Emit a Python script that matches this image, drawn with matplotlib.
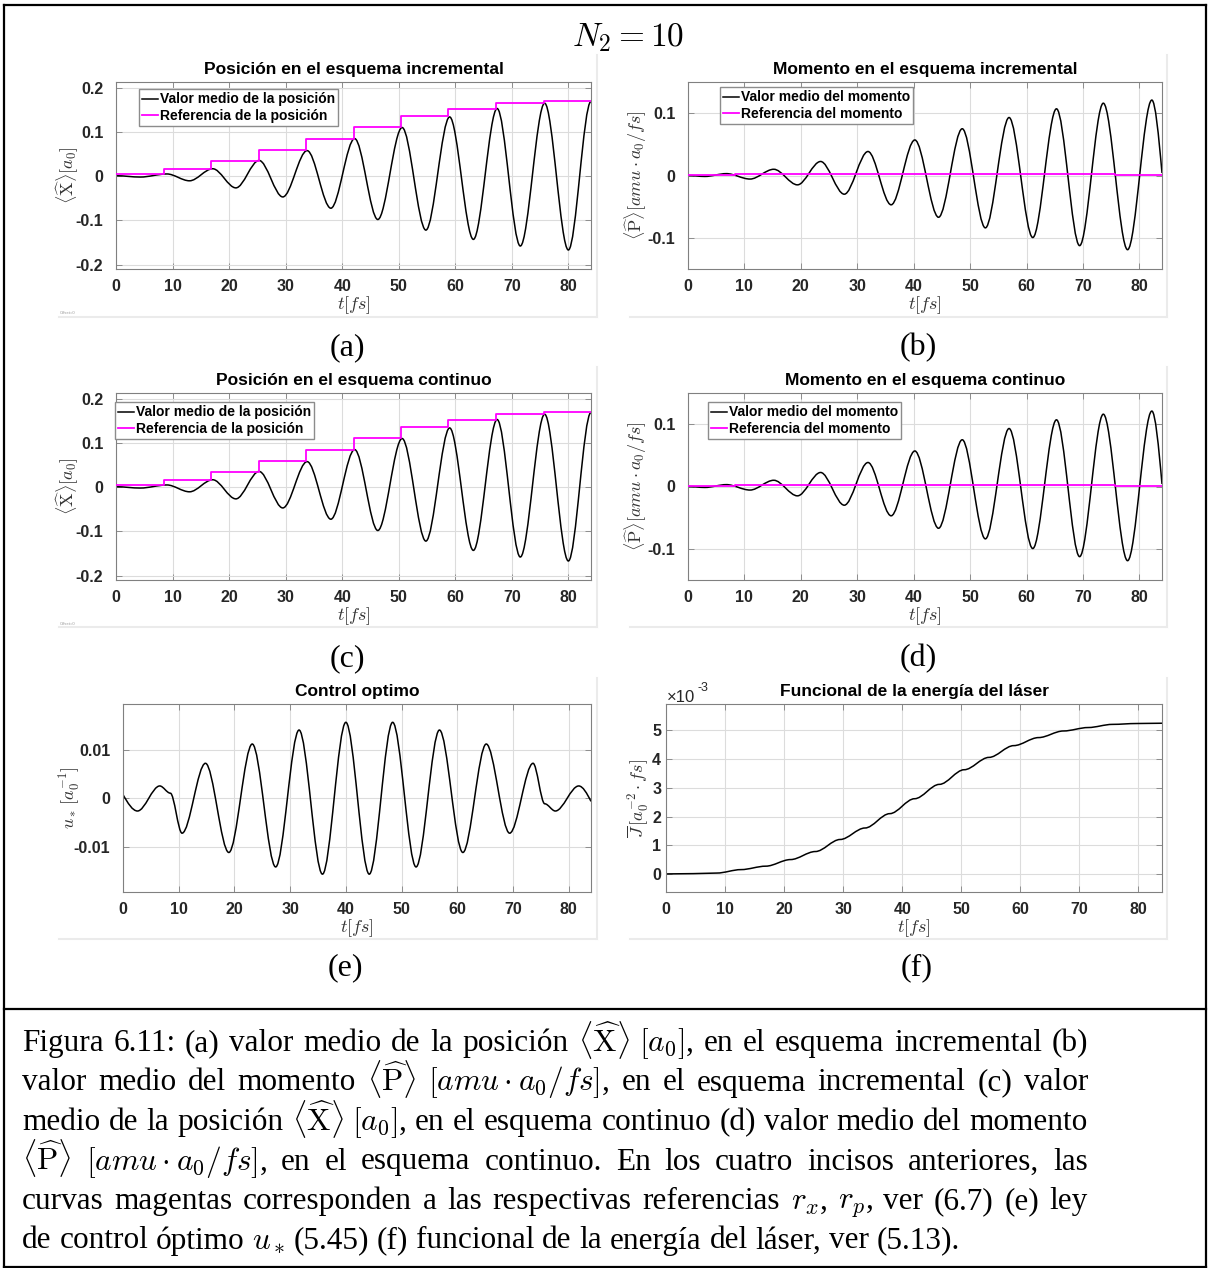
import matplotlib.pyplot as plt
import numpy as np
from matplotlib.path import Path
from matplotlib.patches import PathPatch
from matplotlib.lines import Line2D
from matplotlib.ticker import FuncFormatter

plt.rcParams['font.family'] = ['Liberation Sans', 'DejaVu Sans']
plt.rcParams['font.weight'] = 'bold'
plt.rcParams['mathtext.fontset'] = 'cm'
plt.rcParams['axes.unicode_minus'] = False

# ---- data (time in fs) ----
# mean position <X>: turning points of the oscillation [a0]
x_t = [0, 4.3, 9.0, 13.0, 17.1, 21.2, 25.3, 29.5, 33.8, 38.0, 42.2,
       46.3, 50.6, 54.8, 59.0, 63.2, 67.4, 71.5, 75.8, 80.0, 84.0]
x_v = [0.001, -0.002, 0.005, -0.0105, 0.0168, -0.0265, 0.0356, -0.047,
       0.0578, -0.0725, 0.085, -0.098, 0.110, -0.122, 0.134, -0.143,
       0.153, -0.158, 0.165, -0.167, 0.169]

# position reference r_x (piecewise constant)
ref_t = [0, 8.4, 16.8, 25.2, 33.6, 42.0, 50.4, 58.8, 67.2, 75.6, 84.0]
rx = [0.004, 0.0166, 0.035, 0.0586, 0.085, 0.111, 0.135, 0.153, 0.165,
      0.170, 0.170]

# mean momentum <P>: turning points [amu a0/fs]
p_t = [0, 3.0, 6.8, 11.0, 15.2, 19.4, 23.5, 27.7, 31.9, 36.0, 40.2,
       44.4, 48.6, 52.7, 56.9, 61.1, 65.3, 69.4, 73.6, 77.9, 82.2, 84.0]
p_v = [0.0, -0.0015, 0.003, -0.0057, 0.010, -0.015, 0.0225, -0.030,
       0.0385, -0.047, 0.057, -0.067, 0.075, -0.084, 0.093, -0.0995,
       0.107, -0.1125, 0.116, -0.119, 0.121, 0.004]

# momentum reference r_p
rp = [0.001, 0.002, 0.002, 0.003, 0.003, 0.003, 0.003, 0.002, 0.002,
      0.001, 0.001]

# optimal control u_*: turning points [1/a0]
u_t = [0, 2.6, 6.6, 8.5, 10.6, 14.8, 19.0, 23.2, 27.4, 31.6, 35.8, 40.0,
       44.2, 48.4, 52.6, 56.8, 61.0, 65.2, 69.4, 73.6, 75.7, 77.6, 81.8, 84.0]
u_v = [0.0008, -0.0026, 0.0026, 0.0011, -0.0072, 0.0073, -0.0112, 0.0113,
       -0.0142, 0.0142, -0.0157, 0.0158, -0.0157, 0.0158, -0.0142, 0.0142,
       -0.0112, 0.0113, -0.0072, 0.0073, -0.0011, -0.0026, 0.0026, -0.0006]

# laser energy functional J, sampled where u_* crosses zero [x1e-3]
j_t = [0, 4.6, 8.6, 12.7, 16.9, 21.1, 25.3, 29.5, 33.7, 37.9, 42.1, 46.3,
       50.5, 54.7, 58.9, 63.1, 67.3, 71.5, 75.6, 79.7, 84.0]
j_v = [0.0, 0.01, 0.03, 0.15, 0.27, 0.50, 0.78, 1.20, 1.60, 2.10, 2.62,
       3.12, 3.63, 4.06, 4.47, 4.75, 4.98, 5.10, 5.21, 5.24, 5.25]

xticks = [0, 10, 20, 30, 40, 50, 60, 70, 80]

W, H = 1209, 1268
fig = plt.figure(figsize=(W / 100, H / 100), dpi=100)


def smooth_path(t, v, free_start=False, free_end=False):
    # cubic segments with flat tangents at the turning points
    verts = [(t[0], v[0])]
    codes = [Path.MOVETO]
    n = len(t)
    for i in range(n - 1):
        t0, y0, t1, y1 = t[i], v[i], t[i + 1], v[i + 1]
        dt = t1 - t0
        c0 = y0 + 0.52 * (y1 - y0) if (i == 0 and free_start) else y0
        c1 = y1 - 0.52 * (y1 - y0) if (i == n - 2 and free_end) else y1
        verts += [(t0 + dt / 3, c0), (t1 - dt / 3, c1), (t1, y1)]
        codes += [Path.CURVE4] * 3
    return Path(verts, codes)


def px_axes(x0, y0, x1, y1, ypad=9):
    ax = fig.add_axes([x0 / W, 1 - y1 / H, (x1 - x0) / W, (y1 - y0) / H])
    ax.set_xlim(0, 84)
    ax.set_xticks(xticks)
    ax.grid(True, color='#dcdcdc', lw=0.8)
    ax.set_axisbelow(True)
    ax.tick_params(direction='in', top=True, right=True, length=4, width=0.6,
                   color='#808080', labelsize=11.5, labelcolor='#262626')
    ax.tick_params(axis='x', pad=7)
    ax.tick_params(axis='y', pad=ypad)
    for s in ax.spines.values():
        s.set_color('#808080')
        s.set_linewidth(0.8)
    ax.yaxis.set_major_formatter(FuncFormatter(lambda v, p: '%g' % round(v, 6)))
    return ax


def fig_text(x, y, s, **kw):
    return fig.text(x / W, 1 - y / H, s, **kw)


def panel_frame(x0, y0, x1, y1):
    fig.add_artist(Line2D([x1 / W, x1 / W], [1 - y0 / H, 1 - y1 / H],
                          color='#ebebeb', lw=1.5))
    fig.add_artist(Line2D([x0 / W, x1 / W], [1 - y1 / H, 1 - y1 / H],
                          color='#ebebeb', lw=1.5))


serif = dict(fontweight='normal', family=['Liberation Serif', 'DejaVu Serif'])
lab_kw = dict(fontsize=13, color='#333333', ha='center', va='center')
leg_kw = dict(fontsize=10, frameon=True, fancybox=False, edgecolor='#8c8c8c',
              framealpha=1, handlelength=1.1, handletextpad=0.15,
              borderpad=0.25, labelspacing=0.15, borderaxespad=0)
title_kw = dict(fontsize=12.5, fontweight='bold', pad=6)


def sub_label(x, y, s):
    fig_text(x, y, s, fontsize=23, ha='center', va='center', **serif)


def position_panel(box, title, leg_xy, frame, cap):
    ax = px_axes(*box)
    ax.set_ylim(-0.21, 0.213)
    ax.set_yticks([-0.2, -0.1, 0, 0.1, 0.2])
    ax.add_patch(PathPatch(smooth_path(x_t, x_v), fill=False, ec='k', lw=1.1))
    ax.step(ref_t, rx, where='post', color='#ff00ff', lw=1.3, zorder=3)
    ax.set_title(title, **title_kw)
    ax.legend([Line2D([], [], color='k', lw=1.1),
               Line2D([], [], color='#ff00ff', lw=1.3)],
              ['Valor medio de la posición', 'Referencia de la posición'],
              loc='upper left', bbox_to_anchor=(leg_xy[0] / W, 1 - leg_xy[1] / H),
              bbox_transform=fig.transFigure, **leg_kw)
    xc = (box[0] + box[2]) / 2
    fig_text(xc, box[3] + 36, r'$t[fs]$', **lab_kw)
    fig_text(68, (box[1] + box[3]) / 2, r'$\langle\widehat{\mathrm{X}}\rangle[a_0]$',
             rotation=90, **lab_kw)
    fig_text(60, box[3] + 44, 'Offset=0', fontsize=3, color='#999999',
             fontweight='normal', va='center')
    panel_frame(*frame)
    sub_label(347, cap, cap_lab.pop(0))


def momentum_panel(box, title, leg_xy, frame, cap):
    ax = px_axes(*box)
    ax.set_ylim(-0.15, 0.15)
    ax.set_yticks([-0.1, 0, 0.1])
    ax.add_patch(PathPatch(smooth_path(p_t, p_v, free_end=True), fill=False,
                           ec='k', lw=1.1))
    ax.step(ref_t, rp, where='post', color='#ff00ff', lw=1.3, zorder=3)
    ax.set_title(title, **title_kw)
    ax.legend([Line2D([], [], color='k', lw=1.1),
               Line2D([], [], color='#ff00ff', lw=1.3)],
              ['Valor medio del momento', 'Referencia del momento'],
              loc='upper left', bbox_to_anchor=(leg_xy[0] / W, 1 - leg_xy[1] / H),
              bbox_transform=fig.transFigure, **leg_kw)
    xc = (box[0] + box[2]) / 2
    fig_text(xc, box[3] + 36, r'$t[fs]$', **lab_kw)
    fig_text(636, (box[1] + box[3]) / 2,
             r'$\langle\widehat{\mathrm{P}}\rangle[amu\cdot a_0/fs]$',
             rotation=90, **lab_kw)
    panel_frame(*frame)
    sub_label(918, cap, cap_lab.pop(0))


cap_lab = ['(a)', '(b)', '(c)', '(d)', '(e)', '(f)']

position_panel((116, 82, 591, 269), 'Posición en el esquema incremental',
               (139, 89), (59, 55, 597, 317), 348)
momentum_panel((688, 82, 1162, 269), 'Momento en el esquema incremental',
               (720, 87), (630, 55, 1167, 317), 348)
position_panel((116, 393, 591, 580), 'Posición en el esquema continuo',
               (115, 402), (59, 367, 597, 627), 659)
momentum_panel((688, 393, 1162, 580), 'Momento en el esquema continuo',
               (708, 402), (630, 367, 1167, 627), 659)

# (e) optimal control
ax = px_axes(123, 704, 591, 892)
ax.set_ylim(-0.0194, 0.0196)
ax.set_yticks([-0.01, 0, 0.01])
ax.add_patch(PathPatch(smooth_path(u_t, u_v, free_start=True, free_end=True),
                       fill=False, ec='k', lw=1.1))
ax.set_title('Control optimo', **title_kw)
fig_text(357, 928, r'$t[fs]$', **lab_kw)
fig_text(70, 798, r'$u_*\,[a_0^{-1}]$', rotation=90, **lab_kw)
panel_frame(59, 678, 597, 939)
sub_label(345, 968, cap_lab.pop(0))

# (f) laser energy functional
ax = px_axes(666, 704, 1162, 892, ypad=3.5)
ax.set_ylim(-0.63e-3, 5.92e-3)
ax.set_yticks([0, 1e-3, 2e-3, 3e-3, 4e-3, 5e-3])
ax.yaxis.set_major_formatter(FuncFormatter(lambda v, p: '%g' % round(v * 1e3, 6)))
ax.add_patch(PathPatch(smooth_path(j_t, [v * 1e-3 for v in j_v]), fill=False,
                       ec='k', lw=1.1))
ax.set_title('Funcional de la energía del láser', **title_kw)
fig_text(667, 698, '×10', fontsize=12, color='#262626', fontweight='normal',
         va='center')
fig_text(698, 688, '-3', fontsize=9, color='#262626', fontweight='normal',
         va='center')
fig_text(914, 928, r'$t[fs]$', **lab_kw)
fig_text(638, 798, r'$\overline{J}\,[a_0^{-2}\cdot fs]$', rotation=90, **lab_kw)
panel_frame(630, 678, 1167, 939)
sub_label(917, 968, cap_lab.pop(0))

fig_text(628, 38, r'$N_2 = 10$', fontsize=24, ha='center', va='center')

# outer box and caption separator
for xs, ys in [((4, 1206), (5, 5)), ((4, 4), (5, 1267)), ((1206, 1206), (5, 1267)),
               ((4, 1206), (1267, 1267)), ((4, 1206), (1009, 1009))]:
    fig.add_artist(Line2D([x / W for x in xs], [1 - y / H for y in ys],
                          color='k', lw=1.6))

# caption, justified between the margins
cap_lines = [
    r'Figura 6.11: (a) valor medio de la posición $\langle\widehat{\mathrm{X}}\rangle$ $[a_0]$, en el esquema incremental (b)',
    r'valor medio del momento $\langle\widehat{\mathrm{P}}\rangle$ $[amu\cdot{}a_0/fs]$, en el esquema incremental (c) valor',
    r'medio de la posición $\langle\widehat{\mathrm{X}}\rangle$ $[a_0]$, en el esquema continuo (d) valor medio del momento',
    r'$\langle\widehat{\mathrm{P}}\rangle$ $[amu\cdot{}a_0/fs]$, en el esquema continuo. En los cuatro incisos anteriores, las',
    r'curvas magentas corresponden a las respectivas referencias $r_x$, $r_p$, ver (6.7) (e) ley',
    r'de control óptimo $u_*$ (5.45) (f) funcional de la energía del láser, ver (5.13).',
]
cap_left, cap_right = 22, 1088
cap_base = [1051, 1090.5, 1130, 1169.5, 1209, 1248.5]
renderer = fig.canvas.get_renderer()
size0 = 20.0
rows = []
for line, yb in zip(cap_lines, cap_base):
    words = line.split(' ')
    texts = [fig_text(0, yb, w, fontsize=size0, va='baseline', **serif)
             for w in words]
    rows.append(texts)


def row_natural(texts, size):
    ws = [t.get_window_extent(renderer).width for t in texts]
    return sum(ws) + 0.25 * size * 100 / 72 * (len(ws) - 1)


# font size that lets the widest full line fit the measure
widest = max(row_natural(r, size0) for r in rows[:-1])
size = size0 * (cap_right - cap_left - 8) / widest
for i, texts in enumerate(rows):
    for t in texts:
        t.set_fontsize(size)
    widths = [t.get_window_extent(renderer).width for t in texts]
    space = 0.25 * size * 100 / 72
    if i < len(rows) - 1:
        space = (cap_right - cap_left - sum(widths)) / (len(texts) - 1)
    x = cap_left
    for t, w in zip(texts, widths):
        t.set_x(x / W)
        x += w + space

fig.savefig('out.png', dpi=100)
